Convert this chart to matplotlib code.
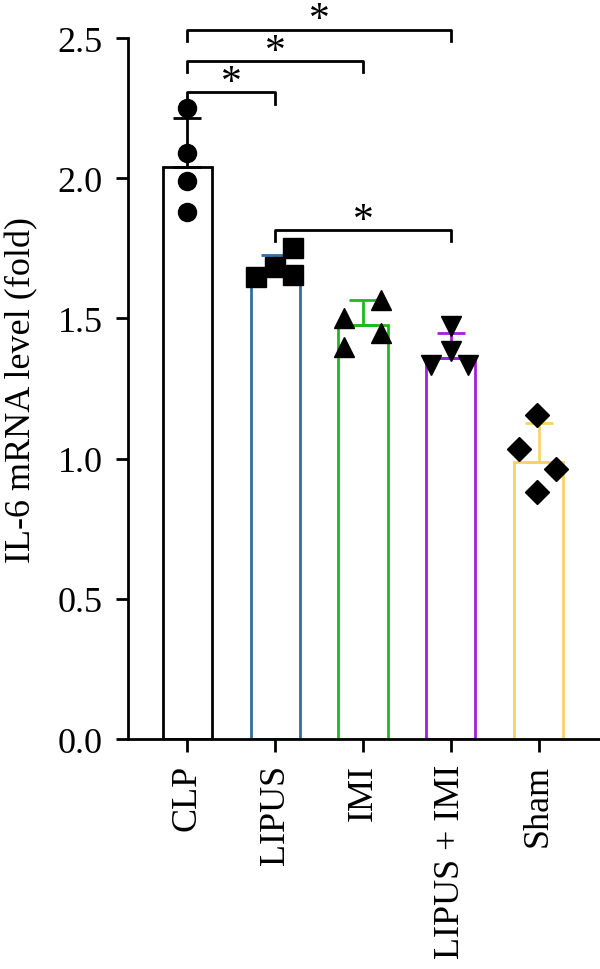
import matplotlib
matplotlib.use("Agg")
import matplotlib.pyplot as plt
import numpy as np

plt.rcParams['font.family'] = ['Liberation Serif', 'DejaVu Serif']

groups = ["CLP", "LIPUS", "IMI", "LIPUS + IMI", "Sham"]
means = [2.04, 1.68, 1.476, 1.359, 0.99]
sds = [0.175, 0.045, 0.09, 0.09, 0.137]
colors = ["#000000", "#336e9e", "#20b820", "#a020dc", "#f5d466"]
markers = ["o", "s", "^", "v", "D"]

# individual points and their x offset within the bar
pts = [
    [2.25, 2.09, 1.99, 1.88],
    [1.647, 1.683, 1.751, 1.655],
    [1.50, 1.565, 1.40, 1.45],
    [1.475, 1.385, 1.335, 1.335],
    [1.155, 1.034, 0.963, 0.88],
]
jit = [
    [0.0, 0.0, 0.0, 0.0],
    [-0.22, 0.0, 0.2, 0.2],
    [-0.22, 0.2, -0.22, 0.2],
    [0.0, 0.0, -0.22, 0.2],
    [-0.02, -0.22, 0.2, -0.02],
]
msize = [13, 14, 14, 14, 12]

# significance brackets: (left group, right group, height)
sig = [(0, 1, 2.306), (0, 2, 2.418), (0, 3, 2.529), (1, 3, 1.815)]

fig = plt.figure(figsize=(6, 9.7), dpi=100)
ax = fig.add_axes([0.213, 0.237, 0.787, 0.7227])

lw = 2.0
x = np.arange(len(groups))
ax.bar(x, means, width=0.56, facecolor="white", edgecolor=colors,
       linewidth=lw, zorder=1)
for i in range(len(groups)):
    ax.errorbar(x[i], means[i], yerr=[[0], [sds[i]]], fmt="none",
                ecolor=colors[i], elinewidth=lw, capsize=10, capthick=lw,
                zorder=2)
    ax.plot(x[i] + np.array(jit[i]), pts[i], linestyle="none",
            marker=markers[i], markersize=msize[i], color="black", zorder=3,
            clip_on=False)

leg = 0.04
for a, b, h in sig:
    ax.plot([a, a, b, b], [h - leg, h, h, h - leg], color="black", lw=lw,
            clip_on=False)
    ax.text((a + b) / 2, h + 0.035, "*", ha="center", va="center",
            fontsize=30)

ax.set_xlim(-0.68, 4.7)
ax.set_ylim(0, 2.5)
ax.set_yticks(np.arange(0, 2.51, 0.5))
ax.set_yticklabels(["{:.1f}".format(v) for v in np.arange(0, 2.51, 0.5)])
ax.set_xticks(x)
ax.set_xticklabels(groups, rotation=90)
ax.set_ylabel("IL-6 mRNA level (fold)", fontsize=26, labelpad=14)

ax.spines["top"].set_visible(False)
ax.spines["right"].set_visible(False)
ax.spines["left"].set_linewidth(lw)
ax.spines["bottom"].set_linewidth(lw)
ax.tick_params(axis="both", labelsize=26, width=lw, length=9, pad=9)

fig.savefig("out.png", dpi=100)
